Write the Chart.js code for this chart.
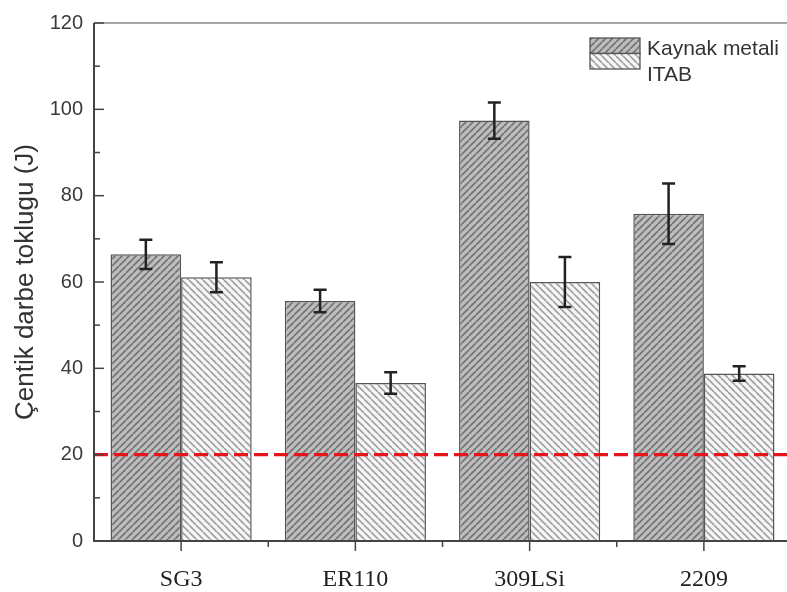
<!DOCTYPE html>
<html>
<head>
<meta charset="utf-8">
<script src="https://cdn.jsdelivr.net/npm/chart.js@4.4.1/dist/chart.umd.min.js"></script>
<style>
  html, body { margin: 0; padding: 0; background: #fff; overflow: hidden; }
  #wrap { width: 800px; height: 592px; }
</style>
</head>
<body>
<div id="wrap"><canvas id="chart" width="800" height="592"></canvas></div>
<script>
// Data
const categories = ["SG3", "ER110", "309LSi", "2209"];
const seriesNames = ["Kaynak metali", "ITAB"];
const kaynakValues = [66.4, 55.6, 97.4, 75.8];
const kaynakErrors = [3.4, 2.6, 4.2, 7.0];
const itabValues = [61.1, 36.6, 60.0, 38.8];
const itabErrors = [3.5, 2.5, 5.8, 1.7];
const thresholdValue = 20;
const yMin = 0;
const yMax = 120;
const yStep = 20;
const yMinorStep = 10;

// Hatch pattern for the bars
function makeHatch(bg, line, dir) {
  const size = 7;
  const c = document.createElement("canvas");
  c.width = size;
  c.height = size;
  const g = c.getContext("2d");
  g.fillStyle = bg;
  g.fillRect(0, 0, size, size);
  g.strokeStyle = line;
  g.lineWidth = 1.7;
  g.beginPath();
  for (let k = -1; k <= 1; k++) {
    if (dir === "/") {
      g.moveTo(k * size, size);
      g.lineTo(k * size + size, 0);
    } else {
      g.moveTo(k * size, 0);
      g.lineTo(k * size + size, size);
    }
  }
  g.stroke();
  return g.createPattern(c, "repeat");
}

const kaynakFill = makeHatch("#bdbdbd", "#747474", "/");
const itabFill = makeHatch("#f6f6f6", "#a2a2a2", "\\");

// Error bars
const errorBarPlugin = {
  id: "errorBars",
  afterDatasetsDraw(chart) {
    const ctx = chart.ctx;
    const y = chart.scales.y;
    const errs = [kaynakErrors, itabErrors];
    ctx.save();
    ctx.strokeStyle = "#222";
    ctx.lineWidth = 2.5;
    chart.data.datasets.forEach((ds, di) => {
      const meta = chart.getDatasetMeta(di);
      meta.data.forEach((bar, i) => {
        const v = ds.data[i];
        const top = y.getPixelForValue(v + errs[di][i]);
        const bot = y.getPixelForValue(v - errs[di][i]);
        ctx.beginPath();
        ctx.moveTo(bar.x, top);
        ctx.lineTo(bar.x, bot);
        ctx.moveTo(bar.x - 6.5, top);
        ctx.lineTo(bar.x + 6.5, top);
        ctx.moveTo(bar.x - 6.5, bot);
        ctx.lineTo(bar.x + 6.5, bot);
        ctx.stroke();
      });
    });
    ctx.restore();
  },
};

// Frame, ticks, threshold line and legend
const framePlugin = {
  id: "frame",
  afterDraw(chart) {
    const ctx = chart.ctx;
    const area = chart.chartArea;
    const y = chart.scales.y;
    const x = chart.scales.x;
    ctx.save();

    // threshold
    const ty = y.getPixelForValue(thresholdValue);
    ctx.strokeStyle = "#e8141c";
    ctx.lineWidth = 3.2;
    ctx.setLineDash([14, 6]);
    ctx.beginPath();
    ctx.moveTo(area.left, ty);
    ctx.lineTo(area.right, ty);
    ctx.stroke();
    ctx.setLineDash([]);

    // frame
    ctx.strokeStyle = "#8a8a8a";
    ctx.lineWidth = 1.5;
    ctx.beginPath();
    ctx.moveTo(area.left, area.top);
    ctx.lineTo(area.right, area.top);
    ctx.lineTo(area.right, area.bottom);
    ctx.stroke();
    ctx.strokeStyle = "#444";
    ctx.lineWidth = 2;
    ctx.beginPath();
    ctx.moveTo(area.left, area.top);
    ctx.lineTo(area.left, area.bottom);
    ctx.lineTo(area.right, area.bottom);
    ctx.stroke();

    // y ticks (inside)
    ctx.lineWidth = 1.5;
    for (let v = yMin; v <= yMax; v += yMinorStep) {
      const py = y.getPixelForValue(v);
      const len = v % yStep === 0 ? 10 : 6;
      ctx.beginPath();
      ctx.moveTo(area.left, py);
      ctx.lineTo(area.left + len, py);
      ctx.stroke();
    }

    // x ticks (outside)
    categories.forEach((c, i) => {
      const px = x.getPixelForValue(i);
      ctx.beginPath();
      ctx.moveTo(px, area.bottom);
      ctx.lineTo(px, area.bottom + 10);
      ctx.stroke();
      if (i > 0) {
        const mx = (px + x.getPixelForValue(i - 1)) / 2;
        ctx.beginPath();
        ctx.moveTo(mx, area.bottom);
        ctx.lineTo(mx, area.bottom + 6);
        ctx.stroke();
      }
    });

    // legend
    const fills = [kaynakFill, itabFill];
    const lx = 590;
    const ly = 38;
    const sw = 50;
    const sh = 15.5;
    ctx.font = "21px 'Liberation Sans', Arial, sans-serif";
    ctx.textBaseline = "middle";
    seriesNames.forEach((name, i) => {
      const top = ly + i * sh;
      ctx.fillStyle = fills[i];
      ctx.fillRect(lx, top, sw, sh);
      ctx.strokeStyle = "#555";
      ctx.lineWidth = 1.3;
      ctx.strokeRect(lx, top, sw, sh);
      ctx.fillStyle = "#333";
      ctx.fillText(name, lx + 57, 49 + i * 26);
    });

    ctx.restore();
  },
};

new Chart(document.getElementById("chart"), {
  type: "bar",
  data: {
    labels: categories,
    datasets: [
      {
        label: seriesNames[0],
        data: kaynakValues,
        backgroundColor: kaynakFill,
        borderColor: "#555",
        borderWidth: 1.5,
        categoryPercentage: 0.81,
        barPercentage: 1.0,
      },
      {
        label: seriesNames[1],
        data: itabValues,
        backgroundColor: itabFill,
        borderColor: "#555",
        borderWidth: 1.5,
        categoryPercentage: 0.81,
        barPercentage: 1.0,
      },
    ],
  },
  options: {
    responsive: false,
    animation: false,
    layout: { padding: { top: 17, right: 9, left: 0, bottom: 0 } },
    plugins: {
      legend: { display: false },
      tooltip: { enabled: false },
    },
    scales: {
      x: {
        grid: { display: false, drawTicks: false },
        border: { display: false },
        ticks: {
          color: "#222",
          padding: 24,
          font: { family: "'Liberation Serif', 'Times New Roman', serif", size: 24 },
        },
        afterFit: (s) => { s.height = 51; },
      },
      y: {
        min: yMin,
        max: yMax,
        grid: { display: false, drawTicks: false },
        border: { display: false },
        ticks: {
          stepSize: yStep,
          color: "#3a3a3a",
          padding: 11,
          font: { family: "'Liberation Sans', Arial, sans-serif", size: 20 },
        },
        title: {
          display: true,
          text: "Çentik darbe toklugu (J)",
          color: "#333",
          padding: { top: 10, bottom: 0 },
          font: { family: "'Liberation Sans', Arial, sans-serif", size: 26 },
        },
        afterFit: (s) => { s.width = 94; },
      },
    },
  },
  plugins: [errorBarPlugin, framePlugin],
});
</script>
</body>
</html>
